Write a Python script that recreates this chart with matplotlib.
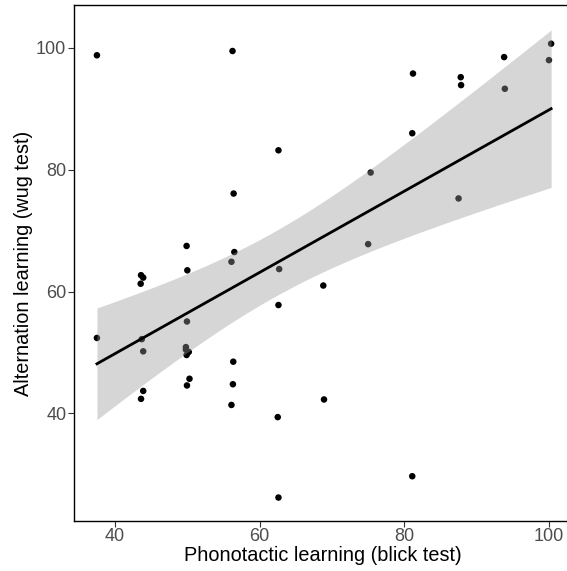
import numpy as np
import matplotlib
matplotlib.use('Agg')
import matplotlib.pyplot as plt

plt.rcParams['font.family'] = ['Liberation Sans', 'DejaVu Sans']

# Phonotactic (blick test) scores per participant
blick = [37.5, 37.5,
         43.6, 43.9, 43.55, 43.7, 43.9, 43.9, 43.6,
         49.9, 50.0, 49.95, 49.8, 49.8, 50.2, 49.9, 50.3, 49.95,
         56.25, 56.4, 56.5, 56.1, 56.35, 56.3, 56.1,
         62.6, 62.7, 62.6, 62.5, 62.6,
         68.8, 68.9,
         75.35, 75.0,
         81.2, 81.1, 81.1,
         87.8, 87.85, 87.5,
         93.8, 93.9,
         100.3, 100.0]

# Alternation (wug test) scores per participant
wug = [98.8, 52.4,
       62.7, 62.3, 61.3, 52.2, 50.2, 43.7, 42.4,
       67.5, 63.5, 55.1, 50.9, 50.5, 50.1, 49.6, 45.7, 44.6,
       99.5, 76.1, 66.5, 64.9, 48.5, 44.8, 41.4,
       83.2, 63.7, 57.8, 39.4, 26.2,
       61.0, 42.3,
       79.55, 67.8,
       95.8, 86.0, 29.7,
       95.2, 93.9, 75.3,
       98.5, 93.3,
       100.7, 98.0]

x = np.array(blick)
y = np.array(wug)

# linear fit with 95% confidence band (like geom_smooth(method = "lm"))
n = len(x)
slope, intercept = np.polyfit(x, y, 1)
resid = y - (slope * x + intercept)
s = np.sqrt(np.sum(resid ** 2) / (n - 2))
sxx = np.sum((x - x.mean()) ** 2)
t_crit = 2.018
xs = np.linspace(x.min(), x.max(), 80)
fit = slope * xs + intercept
se = s * np.sqrt(1 / n + (xs - x.mean()) ** 2 / sxx)

fig = plt.figure(figsize=(5.67, 5.71), dpi=100)
ax = fig.add_axes([0.1305, 0.0881, 0.8776, 0.9026])

ax.scatter(x, y, s=22, color='black', edgecolors='none', zorder=2)
ax.fill_between(xs, fit - t_crit * se, fit + t_crit * se,
                color='#999999', alpha=0.4, linewidth=0, zorder=3)
ax.plot(xs, fit, color='black', linewidth=2.0, zorder=4)

ax.set_xlim(34.33, 103.13)
ax.set_ylim(22.4, 107.0)
ax.set_xticks([40, 60, 80, 100])
ax.set_yticks([40, 60, 80, 100])

for sp in ax.spines.values():
    sp.set_color('black')
    sp.set_linewidth(1.0)

ax.tick_params(direction='out', length=4, width=0.8, color='#333333',
               labelcolor='#4d4d4d', labelsize=13, pad=1.5)

ax.set_xlabel('Phonotactic learning (blick test)', fontsize=14.3, labelpad=0.5)
ax.set_ylabel('Alternation learning (wug test)', fontsize=14.3, labelpad=2)

fig.savefig('out.png', dpi=100)
